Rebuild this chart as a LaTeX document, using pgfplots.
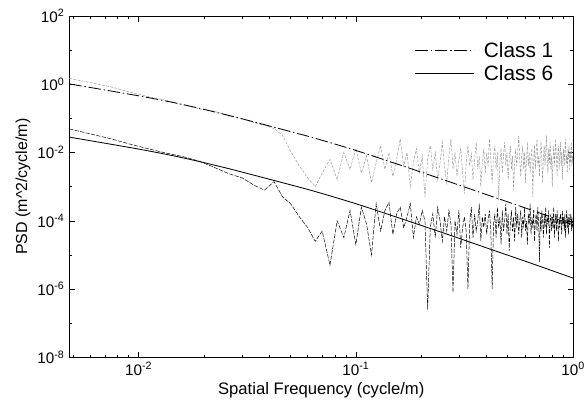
\documentclass[border=0pt]{standalone}
\usepackage{fontspec}
\setmainfont{Liberation Sans}
\usepackage{pgfplots}
\pgfplotsset{compat=1.18}
\usepackage{pgfplotstable}

% measured PSDs: n (cycle/m), b = black trace, g = grey trace
\pgfplotstableread{
n b g
0.0048 4.9e-2 1.48
0.006 3.5e-2 1.12
0.0075 2.5e-2 0.83
0.009 1.8e-2 0.60
0.011 1.3e-2 0.44
0.013 1.0e-2 0.35
0.016 7.6e-3 0.25
0.019 5.6e-3 0.19
0.022 3.8e-3 0.166
0.026 2.4e-3 0.117
0.030 1.8e-3 0.098
0.034 1.1e-3 0.074
0.038 7.9e-4 0.063
0.042 1.4e-3 0.050
0.046 5.0e-4 0.032
0.050 3.2e-4 0.011
0.055 1.3e-4 0.004
0.060 6.3e-5 0.0018
0.065 2.5e-5 0.001
0.070 5.0e-5 0.0025
0.076 5e-6 6.3e-3
0.082 1e-4 1.6e-3
0.088 3.2e-5 1e-2
0.094 2e-4 3.2e-3
0.100 2e-5 1.3e-2
0.106 2.5e-4 2.5e-3
0.112 8e-5 8e-3
0.118 1e-5 1.3e-3
0.124 3.2e-4 5e-3
0.130 5e-5 1.6e-2
0.136 2e-4 3.2e-3
0.142 3.5e-4 1e-2
0.148 4e-5 2e-3
0.154 1.6e-4 6.3e-3
0.160 2.5e-4 2.5e-2
0.166 6.3e-5 4e-3
0.172 1.3e-4 1e-2
0.178 3.2e-4 1e-3
0.184 3.2e-5 5e-3
0.190 1.3e-4 1.3e-2
0.196 8e-5 2.5e-3
0.202 2e-4 8e-3
0.208 1e-4 5e-4
0.214 2.5e-7 6.3e-3
0.220 6.3e-5 1.6e-2
0.226 1.6e-4 3.2e-3
0.232 3.2e-5 1e-2
0.238 2.5e-4 1.6e-3
0.244 1e-4 5e-3
0.250 2.5e-5 2e-2
0.256 1.3e-4 4e-3
0.262 5e-5 1.3e-3
0.268 2e-4 8e-3
0.274 8e-5 2.5e-2
0.280 8e-7 3.2e-3
0.286 1e-4 1e-2
0.292 4e-5 2e-3
0.298 2e-4 6.3e-3
0.304 1.6e-5 1.3e-2
0.310 6.3e-5 2.5e-3
0.316 1.3e-4 6.3e-4
0.322 5e-5 5e-3
0.328 1e-6 1.6e-2
0.334 8e-5 4e-3
0.340 2.5e-4 1e-2
0.346 3.2e-5 1.6e-3
0.352 1.6e-4 6.3e-3
0.358 5e-5 2e-2
0.364 1e-4 3.2e-3
0.370 3.2e-4 8e-3
0.376 2.5e-5 1e-3
0.382 1.3e-4 5e-3
0.388 6.3e-5 1.3e-2
0.394 1.6e-4 2.5e-3
0.400 4e-5 1e-2
0.406 1e-4 4e-3
0.412 2e-4 2.5e-2
0.418 5e-5 6.3e-3
0.424 1e-6 1.3e-3
0.430 8e-5 8e-3
0.436 1.6e-4 1.6e-2
0.442 3.2e-5 3.2e-3
0.448 2.5e-4 1e-2
0.454 6.3e-5 4e-4
0.460 1.3e-4 5e-3
0.466 2e-5 1.3e-2
0.472 2e-4 2.5e-3
0.478 5e-5 8e-3
0.484 1e-4 2e-2
0.490 3.2e-4 4e-3
0.496 4e-5 1e-2
0.502 1.6e-4 1.6e-3
0.508 1.3e-5 6.3e-3
0.514 8e-5 1.6e-2
0.520 2e-4 3.2e-3
0.526 5e-5 8e-3
0.532 1.3e-4 8e-4
0.538 2.5e-5 5e-3
0.544 2.5e-4 1.3e-2
0.550 6.3e-5 4e-3
0.556 1.6e-4 1e-2
0.562 4e-5 3.2e-2
0.568 1e-4 6.3e-3
0.574 2e-4 2e-3
0.580 3.2e-5 8e-3
0.586 1.3e-4 1.6e-2
0.592 6.3e-5 3.2e-3
0.598 2.5e-4 1e-2
0.604 5e-5 1.3e-3
0.610 1e-4 6.3e-3
0.616 2e-5 2e-2
0.622 1.6e-4 4e-3
0.628 8e-5 1e-2
0.634 3.2e-4 2.5e-3
0.640 4e-5 8e-3
0.646 1.3e-4 1.3e-2
0.652 6.3e-5 5e-4
0.658 2e-4 5e-3
0.664 2.5e-5 1.6e-2
0.670 1e-4 3.2e-3
0.676 1.6e-4 1e-2
0.682 5e-5 2.5e-2
0.688 2.5e-4 4e-3
0.694 8e-5 8e-3
0.700 6.3e-6 2e-3
0.706 1.3e-4 1e-2
0.712 5e-5 2e-2
0.718 2e-4 5e-3
0.724 1e-4 1.3e-3
0.730 3.2e-5 8e-3
0.736 1.6e-4 1.6e-2
0.742 6.3e-5 4e-3
0.748 2.5e-4 1e-2
0.754 4e-5 3.2e-2
0.760 1.3e-4 6.3e-3
0.766 8e-5 2.5e-3
0.772 2e-4 1.3e-2
0.778 1.6e-5 5e-3
0.784 1e-4 2e-2
0.790 1.6e-4 3.2e-3
0.796 5e-5 8e-3
0.802 1.3e-4 1e-3
0.808 6.3e-5 6.3e-3
0.814 2.5e-4 1.6e-2
0.820 3.2e-5 4e-3
0.826 1e-4 1e-2
0.832 1.6e-4 2.5e-2
0.838 5e-5 5e-3
0.844 2e-4 2e-3
0.850 8e-5 1e-2
0.856 2.5e-5 1.6e-2
0.862 1.3e-4 3.2e-3
0.868 6.3e-5 8e-3
0.874 1.6e-4 2e-2
0.880 1e-4 4e-3
0.886 4e-5 1e-2
0.892 2e-4 1.6e-3
0.898 8e-5 6.3e-3
0.904 1.3e-4 1.3e-2
0.910 5e-5 4e-3
0.916 1.6e-4 1e-2
0.922 3.2e-5 2.5e-2
0.928 1e-4 5e-3
0.934 2e-4 8e-3
0.940 6.3e-5 2.5e-3
0.946 1.3e-4 1.3e-2
0.952 4e-5 6.3e-3
0.958 1.6e-4 1.6e-2
0.964 8e-5 3.2e-3
0.970 1e-4 1e-2
0.976 1.6e-4 5e-3
0.982 5e-5 2e-2
0.988 1.3e-4 4e-3
0.994 6.3e-5 8e-3
1.000 1e-4 5e-3
}\psdtable

\begin{document}
\begin{tikzpicture}
\begin{axis}[
    scale only axis,
    width=363pt, height=246pt,
    xmode=log, ymode=log,
    xmin=0.0048, xmax=1,
    ymin=1e-8, ymax=1e2,
    xtick={0.01,0.1,1},
    xticklabels={10\textsuperscript{-2},10\textsuperscript{-1},10\textsuperscript{0}},
    minor xtick={0.005,0.006,0.007,0.008,0.009,0.02,0.03,0.04,0.05,0.06,0.07,0.08,0.09,0.2,0.3,0.4,0.5,0.6,0.7,0.8,0.9},
    ytick={1e-8,1e-6,1e-4,1e-2,1,1e2},
    yticklabels={10\textsuperscript{-8},10\textsuperscript{-6},10\textsuperscript{-4},10\textsuperscript{-2},10\textsuperscript{0},10\textsuperscript{2}},
    minor ytick={1e-7,1e-5,1e-3,1e-1,1e1},
    major tick length=4pt, minor tick length=2pt,
    tick style={black, line width=0.4pt},
    axis line style={line width=0.6pt},
    tick label style={font=\fontsize{11}{13}\selectfont},
    xlabel={Spatial Frequency (cycle/m)},
    ylabel={PSD (m\textasciicircum 2/cycle/m)},
    xlabel style={font=\fontsize{12}{14}\selectfont, yshift=2pt},
    ylabel style={font=\fontsize{11.5}{14}\selectfont, yshift=-2pt},
    legend style={at={(0.975,0.94)}, anchor=north east, draw=none, fill=none,
        font=\fontsize{15}{18}\selectfont, row sep=0pt,
        /tikz/every odd column/.append style={column sep=5pt}},
    legend cell align=left,
    legend image code/.code={\draw[#1] (0pt,0pt) -- (42pt,0pt);},
]
% measured traces (not in legend)
\addplot[black!40, line width=0.35pt, dash pattern=on 2pt off 1pt, forget plot]
    table[x=n, y=g] {\psdtable};
\addplot[black, line width=0.35pt, dash pattern=on 3pt off 1pt, forget plot]
    table[x=n, y=b] {\psdtable};

% Class 1
\addplot[black, line width=0.6pt, smooth, dash pattern=on 9pt off 2pt on 1pt off 2pt] coordinates {
    (0.0048,1.02) (0.01,0.457) (0.01585,0.257) (0.02512,0.129) (0.03981,0.0603)
    (0.0631,0.0275) (0.1,0.0115) (0.1585,4.37e-3) (0.2512,1.62e-3)
    (0.3981,5.89e-4) (0.631,2.14e-4) (1,7.59e-5)
};
\addlegendentry{Class 1}
% Class 6
\addplot[black, line width=0.6pt, smooth] coordinates {
    (0.0048,0.0282) (0.01,0.0126) (0.01585,7.08e-3) (0.02512,3.55e-3) (0.03981,1.66e-3)
    (0.0631,7.59e-4) (0.1,3.16e-4) (0.1585,1.20e-4) (0.2512,4.47e-5)
    (0.3981,1.62e-5) (0.631,5.89e-6) (1,2.09e-6)
};
\addlegendentry{Class 6}
\end{axis}
\pgfresetboundingbox
\path ([shift={(-50pt,-36pt)}]current axis.south west) rectangle ([shift={(10pt,11.5pt)}]current axis.north east);
\end{tikzpicture}
\end{document}
